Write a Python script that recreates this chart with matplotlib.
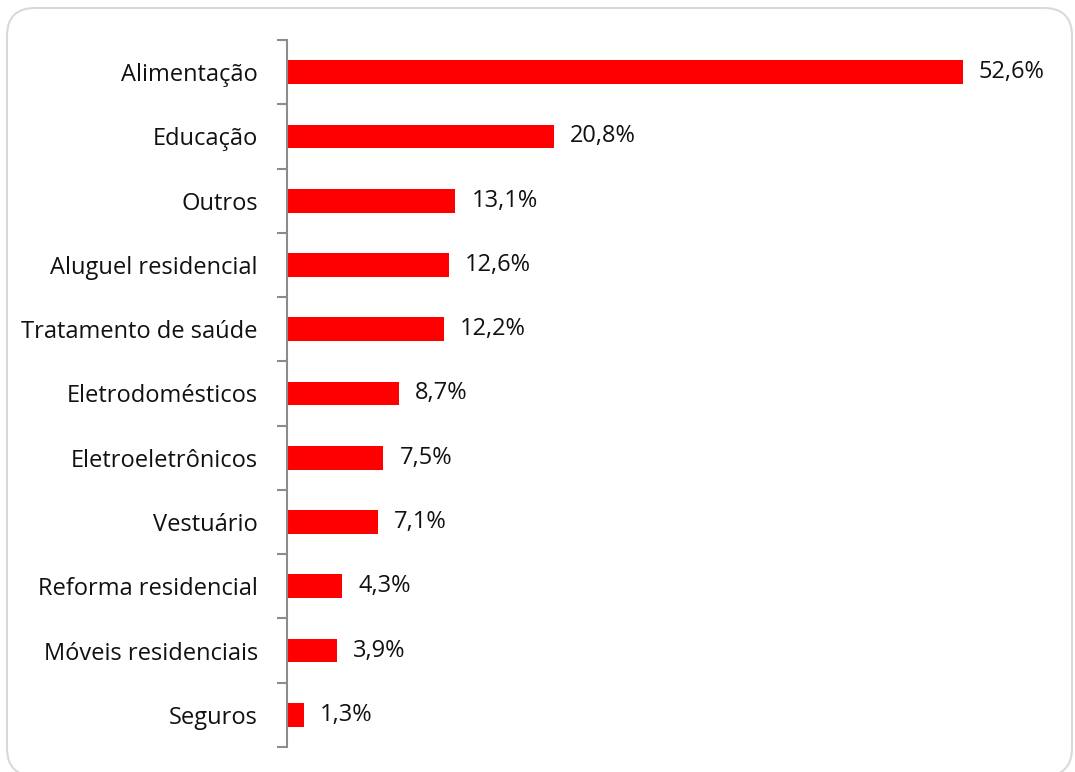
import matplotlib
matplotlib.use("Agg")
import matplotlib.pyplot as plt
from matplotlib.patches import FancyBboxPatch
from matplotlib.transforms import IdentityTransform
import numpy as np

categories = [
    "Alimentação", "Educação", "Outros", "Aluguel residencial",
    "Tratamento de saúde", "Eletrodomésticos", "Eletroeletrônicos",
    "Vestuário", "Reforma residencial", "Móveis residenciais", "Seguros",
]
values = [52.6, 20.8, 13.1, 12.6, 12.2, 8.7, 7.5, 7.1, 4.3, 3.9, 1.3]

plt.rcParams["font.family"] = ["Open Sans", "DejaVu Sans"]

W, H = 1075, 772
fig = plt.figure(figsize=(W / 100, H / 100), dpi=100)
fig.patch.set_facecolor("white")

# rounded border around the chart (pixel coordinates, origin bottom-left)
border = FancyBboxPatch((7, -4), 1065, H - 8 + 4,
                        boxstyle="round,pad=0,rounding_size=28",
                        transform=IdentityTransform(), fill=False,
                        edgecolor="#d9d9d9", linewidth=1.5, clip_on=False)
fig.patches.append(border)

ax = fig.add_axes([287 / W, 25 / H, (1058 - 287) / W, (732 - 25) / H])
y = np.arange(len(categories))
ax.barh(y, values, height=0.37, color="#ff0000")
ax.set_ylim(len(categories) - 0.5, -0.5)
ax.set_xlim(0, 60)

for yi, v in zip(y, values):
    ax.text(v + 1.25, yi, f"{v:.1f}%".replace(".", ","), va="center", ha="left",
            fontsize=17, color="#111111")

ax.set_yticks(y)
ax.set_yticklabels(categories, fontsize=17, color="#111111")
ax.tick_params(axis="y", which="major", length=0, pad=21)
ax.set_yticks(np.arange(-0.5, len(categories)), minor=True)
ax.tick_params(axis="y", which="minor", length=7.5, color="#8c8c8c", width=1.5)
ax.set_xticks([])

for side in ("top", "right", "bottom"):
    ax.spines[side].set_visible(False)
ax.spines["left"].set_color("#8c8c8c")
ax.spines["left"].set_linewidth(1.5)

fig.savefig("out.png", dpi=100)
